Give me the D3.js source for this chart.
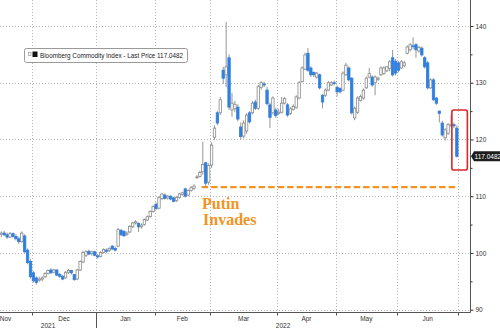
<!doctype html>
<html>
<head>
<meta charset="utf-8">
<script src="https://d3js.org/d3.v7.min.js"></script>
<style>
  body { margin: 0; background: #fff; }
  svg { display: block; font-family: "Liberation Sans", Arial, sans-serif; }
</style>
</head>
<body>
<svg width="500" height="328"></svg>
<script>
// daily candles, one per trading day from mid Nov 2021 to end of Jun 2022
var open = [103.3,103.5,103.2,102.8,103.4,102.9,102.5,102.0,103.0,100.5,98.5,96.5,95.6,95.2,95.4,95.8,96.4,97.0,96.6,97.0,
  96.2,95.9,95.6,96.6,96.9,96.2,95.4,97.0,98.4,99.6,100.3,99.9,100.2,99.5,99.4,100.1,100.5,100.4,101.2,100.8,
  101.2,104.0,103.8,103.3,103.7,104.6,105.3,105.2,104.6,105.0,105.8,106.4,107.3,108.6,107.9,109.6,110.2,109.7,110.0,109.7,
  109.2,109.8,110.3,111.3,110.2,111.0,111.4,113.3,113.5,114.3,115.9,112.5,115.5,120.4,124.7,124.7,132.2,131.4,134.4,125.2,
  125.4,125.7,122.2,120.6,121.5,124.7,124.7,126.6,125.5,129.2,129.8,128.7,126.1,124.7,125.2,124.6,124.8,126.4,126.1,124.6,
  125.3,125.6,127.3,130.2,132.4,135.2,132.6,131.8,131.0,131.4,127.8,127.8,128.7,129.6,130.0,129.2,129.0,128.7,131.4,132.6,
  130.8,123.8,124.8,126.9,127.3,129.1,131.0,131.0,130.0,130.6,131.4,131.6,132.1,132.5,134.4,133.8,133.5,132.6,133.0,135.2,
  135.8,136.5,136.7,135.6,136.1,134.4,133.5,129.1,130.5,127.3,125.0,122.9,120.3,121.1,122.5,122.6,122.0];
var high = [103.8,103.9,103.6,103.7,103.6,103.3,102.9,103.8,103.3,100.8,98.9,96.8,95.9,95.8,95.9,96.6,97.1,97.3,97.2,97.1,
  96.5,96.1,96.8,97.2,97.0,96.3,97.2,98.7,100.4,100.5,100.6,100.4,100.4,99.8,100.3,100.8,100.8,101.0,101.4,101.2,
  104.4,104.2,104.0,103.8,104.9,105.5,105.8,105.4,105.2,106.1,106.6,107.5,108.4,108.9,110.0,110.6,110.5,110.2,110.2,109.9,
  110.0,110.6,110.8,111.5,111.2,111.8,112.1,113.7,114.5,119.6,116.0,115.8,119.5,122.5,125.0,127.5,132.8,140.7,135.0,128.2,
  126.8,126.2,123.0,123.4,124.6,125.0,126.8,127.0,129.6,130.3,130.2,129.3,126.5,127.6,125.6,125.4,127.5,127.5,126.4,125.7,
  126.2,127.8,130.3,132.9,135.3,136.1,132.9,132.0,131.9,131.6,128.0,129.0,130.3,130.3,130.4,129.5,129.2,132.0,133.5,132.9,
  131.0,125.8,127.6,127.9,129.0,131.1,132.6,131.3,131.3,131.1,132.9,132.9,132.9,134.0,135.8,134.2,133.8,134.0,133.9,136.6,
  137.0,138.0,137.0,136.5,136.4,134.7,133.8,130.8,130.8,127.5,125.1,123.3,122.0,122.9,124.3,123.0,122.5];
var low = [102.8,103.0,102.5,102.6,102.7,102.2,101.6,101.8,100.0,98.0,95.5,94.8,94.4,94.9,95.0,95.6,96.2,96.3,96.4,95.9,
  95.6,95.2,95.5,96.3,96.2,95.1,95.2,96.8,98.2,99.3,99.6,99.5,99.4,99.0,99.2,99.9,100.0,100.2,100.5,100.3,
  101.0,103.0,102.9,103.0,103.5,104.4,105.0,103.7,104.3,104.8,105.6,106.2,107.1,107.6,107.7,109.3,109.4,109.4,109.3,108.9,
  109.0,109.6,110.1,109.8,110.0,110.8,111.1,113.1,113.3,113.8,111.6,112.0,115.0,119.9,122.5,124.3,129.8,129.2,125.2,124.0,
  124.8,123.2,120.0,120.2,121.0,122.8,124.4,125.2,125.2,128.8,129.2,126.0,122.0,124.4,123.8,124.3,124.6,126.2,124.0,124.3,
  125.1,125.4,127.1,130.0,132.2,131.9,131.0,131.0,130.7,128.8,125.5,127.5,128.5,129.4,129.5,127.6,128.1,128.5,131.2,130.2,
  124.4,123.4,124.5,126.7,127.0,128.9,130.8,129.3,127.8,130.3,131.2,131.4,131.9,132.0,131.1,131.3,131.8,132.4,132.7,135.0,
  135.5,135.9,134.4,135.3,134.6,132.5,128.8,128.9,126.8,126.1,123.0,120.5,119.8,120.8,122.2,122.0,116.8];
var close = [103.5,103.2,102.8,103.4,102.9,102.5,102.0,103.5,100.2,98.3,95.8,95.1,94.8,95.4,95.6,96.4,96.9,96.5,97.0,96.1,
  95.9,95.4,96.6,96.9,96.5,95.3,97.0,98.5,100.1,100.2,99.8,100.2,99.6,99.3,100.1,100.6,100.3,100.8,100.7,100.5,
  104.1,103.2,103.0,103.5,104.7,105.3,105.5,104.6,104.9,105.9,106.4,107.3,108.2,107.8,109.8,110.4,109.6,110.0,109.5,109.1,
  109.8,110.4,110.6,110.0,111.0,111.5,111.8,113.4,114.2,115.6,112.3,115.4,119.0,122.0,122.9,127.0,130.8,132.8,125.7,126.4,
  126.2,123.6,120.5,122.9,124.3,123.1,126.4,125.5,129.3,130.0,129.6,126.3,123.9,127.3,124.2,124.8,126.4,127.2,124.3,125.4,
  125.8,127.5,130.0,132.6,134.9,132.2,131.4,131.4,131.7,129.1,126.6,128.7,130.0,130.0,129.9,128.4,128.4,131.7,133.1,130.5,
  124.7,125.5,127.3,127.6,128.7,130.8,131.6,129.6,131.0,130.8,132.6,132.6,132.8,133.7,131.4,131.7,132.2,133.7,133.5,136.3,
  136.7,136.4,135.8,136.2,134.9,132.8,129.1,130.5,127.0,126.4,124.6,120.8,121.7,122.6,122.6,122.4,117.0482];

// index of first trading day in each month
var months = ["Nov", "Dec", "Jan", "Feb", "Mar", "Apr", "May", "Jun"];
var monthStart = [-10, 11, 33, 53, 72, 95, 115, 136, 157];
var years = ["2021", "2022"];
var yearStart = [-10, 33];
var yTicks = [90, 100, 110, 120, 130, 140];
var yMinor = [95, 105, 115, 125, 135];
var invadeLevel = 111.6;
var lastPrice = 117.0482;

var svg = d3.select("svg");
var plotR = 470, plotB = 312.5;

var x = d3.scaleLinear().domain([-0.445, 160.5]).range([0, plotR]);
var y = d3.scaleLinear().domain([90, 140]).range([309.7, 26]);

var data = close.map(function(c, i) {
    return {i: i, o: open[i], h: high[i], l: low[i], c: c};
});

// grid
var grid = svg.append("g").attr("stroke", "#b5b5b5").attr("stroke-dasharray", "1,2");
grid.selectAll(".hg").data(yTicks).enter().append("line")
    .attr("x1", 0).attr("x2", plotR)
    .attr("y1", function(d) { return Math.round(y(d)) + 0.5; })
    .attr("y2", function(d) { return Math.round(y(d)) + 0.5; });
grid.selectAll(".vg").data(monthStart.slice(1)).enter().append("line")
    .attr("y1", 0).attr("y2", plotB)
    .attr("x1", function(d) { return Math.round(x(d - 0.5)) + 0.5; })
    .attr("x2", function(d) { return Math.round(x(d - 0.5)) + 0.5; });

// invasion line
svg.append("line")
    .attr("x1", x(68.6)).attr("x2", x(155.7))
    .attr("y1", y(invadeLevel)).attr("y2", y(invadeLevel))
    .attr("stroke", "#f39324").attr("stroke-width", 2.2)
    .attr("stroke-dasharray", "6.5,3");

svg.append("text").attr("x", 202).attr("y", 209)
    .attr("font-family", "Liberation Serif, Times New Roman, serif")
    .attr("font-weight", "bold").attr("font-size", 16).attr("fill", "#f39324")
    .text("Putin");
svg.append("text").attr("x", 203).attr("y", 225)
    .attr("font-family", "Liberation Serif, Times New Roman, serif")
    .attr("font-weight", "bold").attr("font-size", 16).attr("fill", "#f39324")
    .text("Invades");

// candles
var bw = 2.4;
var candles = svg.append("g").selectAll("g").data(data).enter().append("g");
candles.append("line")
    .attr("x1", function(d) { return x(d.i); })
    .attr("x2", function(d) { return x(d.i); })
    .attr("y1", function(d) { return y(d.h); })
    .attr("y2", function(d) { return y(d.l); })
    .attr("stroke", "#8a8a8a").attr("stroke-width", 0.9);
candles.append("rect")
    .attr("x", function(d) { return x(d.i) - bw / 2; })
    .attr("width", bw)
    .attr("y", function(d) { return y(Math.max(d.o, d.c)); })
    .attr("height", function(d) { return Math.max(0.8, Math.abs(y(d.o) - y(d.c))); })
    .attr("fill", function(d) { return d.c < d.o ? "#2f7fe0" : "#fff"; })
    .attr("stroke", function(d) { return d.c < d.o ? "#2f7fe0" : "#8a8a8a"; })
    .attr("stroke-width", 0.8);

// highlight last candle
var lastI = data.length - 1;
svg.append("rect")
    .attr("x", x(lastI) - 5).attr("y", y(124.5) - 4)
    .attr("width", 15.5).attr("height", 60).attr("rx", 2)
    .attr("fill", "none").attr("stroke", "#d8272d").attr("stroke-width", 1.6);

// axes
svg.append("line").attr("x1", plotR + 0.5).attr("x2", plotR + 0.5)
    .attr("y1", 0).attr("y2", plotB).attr("stroke", "#555");
svg.append("line").attr("x1", 0).attr("x2", plotR + 0.5)
    .attr("y1", plotB).attr("y2", plotB).attr("stroke", "#555");

var yAxis = svg.append("g").attr("transform", "translate(" + (plotR + 0.5) + ",0)")
    .call(d3.axisRight(y).tickValues(yTicks).tickSize(3).tickPadding(2).tickFormat(d3.format("d")));
yAxis.select(".domain").remove();
yAxis.selectAll("line").attr("stroke", "#333");
yAxis.selectAll("text").attr("font-size", 6.5).attr("fill", "#333").attr("font-family", "Liberation Sans, Arial, sans-serif");
svg.append("g").attr("transform", "translate(" + (plotR + 0.5) + ",0)")
    .call(d3.axisRight(y).tickValues(yMinor).tickSize(2).tickFormat(""))
    .call(function(g) { g.select(".domain").remove(); g.selectAll("line").attr("stroke", "#333"); });

// month ticks and labels
var mt = svg.append("g");
mt.selectAll("line").data(monthStart.slice(1)).enter().append("line")
    .attr("x1", function(d) { return Math.round(x(d - 0.5)) + 0.5; })
    .attr("x2", function(d) { return Math.round(x(d - 0.5)) + 0.5; })
    .attr("y1", plotB).attr("y2", function(d) { return yearStart.indexOf(d) > 0 ? 328 : plotB + 3; })
    .attr("stroke", "#555");
mt.selectAll("text").data(months).enter().append("text")
    .attr("x", function(d, i) {
        var c = x((monthStart[i] + monthStart[i + 1] - 1) / 2);
        return Math.max(c, 5.5);
    })
    .attr("y", 321).attr("text-anchor", "middle")
    .attr("font-size", 6.5).attr("fill", "#333")
    .text(function(d) { return d; });
svg.append("g").selectAll("text").data(years).enter().append("text")
    .attr("x", function(d, i) {
        var a = Math.max(0, x(yearStart[i] - 0.5));
        var b = i + 1 < yearStart.length ? x(yearStart[i + 1] - 0.5) : plotR;
        return (a + b) / 2;
    })
    .attr("y", 327.5).attr("text-anchor", "middle")
    .attr("font-size", 6.5).attr("fill", "#333")
    .text(function(d) { return d; });

// last price tag
var ty = y(lastPrice);
svg.append("path")
    .attr("d", "M471," + ty + "L474," + (ty - 5) + "H500V" + (ty + 5) + "H474Z")
    .attr("fill", "#1e1e1e");
svg.append("text").attr("x", 474.5).attr("y", ty + 2.4)
    .attr("font-size", 6.5).attr("fill", "#fff")
    .text(lastPrice.toFixed(4));

// legend
var lg = svg.append("g");
lg.append("rect").attr("x", 24.5).attr("y", 48.5).attr("width", 163).attr("height", 14).attr("rx", 2)
    .attr("fill", "#fff").attr("stroke", "#9a9a9a");
lg.append("rect").attr("x", 28.5).attr("y", 52.5).attr("width", 2.5).attr("height", 3)
    .attr("fill", "#fff").attr("stroke", "#999").attr("stroke-width", 0.7);
lg.append("rect").attr("x", 32.5).attr("y", 51.5).attr("width", 5).attr("height", 5.5).attr("fill", "#111");
lg.append("text").attr("x", 40).attr("y", 58.4)
    .attr("font-size", 6.9).attr("fill", "#222")
    .attr("textLength", 143).attr("lengthAdjust", "spacingAndGlyphs")
    .text("Bloomberg Commodity Index - Last Price " + lastPrice);
</script>
</body>
</html>
